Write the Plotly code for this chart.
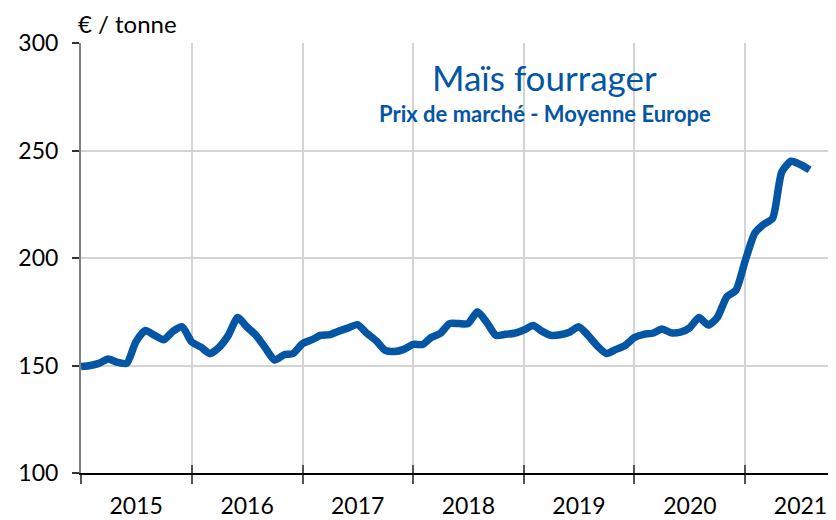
import plotly.graph_objects as go
import pandas as pd

# monthly average price, Jan 2015 .. Aug 2021 (EUR / tonne)
months = pd.date_range("2015-01-01", periods=80, freq="MS")
price = [
    149.5, 150.0, 151.0, 153.0, 151.5, 151.0, 161.0, 166.3, 164.0, 162.0, 166.0, 168.0,
    161.0, 158.5, 155.5, 158.5, 164.0, 172.3, 168.0, 164.0, 158.0, 152.5, 155.0, 155.6,
    160.2, 162.0, 164.0, 164.4, 166.0, 167.5, 169.0, 165.0, 161.5, 157.0, 156.5, 157.5,
    159.8, 159.8, 163.0, 165.0, 169.5, 169.5, 169.5, 175.0, 170.0, 164.0, 164.5, 165.0,
    166.5, 168.6, 166.0, 164.0, 164.3, 165.5, 168.0, 164.0, 159.0, 155.6, 157.5, 159.3,
    163.0, 164.5, 165.0, 167.0, 165.2, 165.5, 167.5, 172.3, 168.8, 172.5, 182.0, 185.0,
    199.0, 211.5, 215.5, 218.5, 240.0, 245.0, 243.5, 241.0,
]
years = [2015, 2016, 2017, 2018, 2019, 2020, 2021]

year_starts = [f"{y}-01-01" for y in years]
year_mids = [f"{y}-07-02" for y in years]
x_range = ["2015-01-01", "2021-10-27"]

blue = "#0456a5"
grid = "#d4d4d4"
font = "Lato, Open Sans, sans-serif"

fig = go.Figure()
fig.add_trace(go.Scatter(
    x=months, y=price, mode="lines",
    line=dict(color=blue, width=7.5, shape="spline", smoothing=0.6),
    hoverinfo="x+y", showlegend=False,
))
# dummy trace so the overlay axis (inner half of the crossing ticks) is drawn
fig.add_trace(go.Scatter(
    x=months, y=price, xaxis="x2", mode="lines",
    line=dict(width=0), opacity=0, hoverinfo="skip", showlegend=False,
))

# the page body has an 8px margin, so the figure is 8px smaller than the window
fig.update_layout(
    width=828, height=512,
    margin=dict(l=73, r=0, t=35, b=47),
    paper_bgcolor="white", plot_bgcolor="white",
    font=dict(family=font, size=24, color="black"),
    xaxis=dict(
        range=x_range, tickmode="array", tickvals=year_mids, ticktext=[str(y) for y in years],
        ticks="", showgrid=False, showline=True, linecolor="black", linewidth=1.5,
        zeroline=False, tickfont=dict(size=23), ticklabelstandoff=12, automargin=False,
        minor=dict(tickmode="array", tickvals=year_starts, ticks="outside", ticklen=9,
                   tickcolor="#555555", tickwidth=1.5, showgrid=True, gridcolor=grid, gridwidth=1.5),
    ),
    xaxis2=dict(
        range=x_range, overlaying="x", anchor="y", side="bottom",
        tickmode="array", tickvals=year_starts, ticks="inside", ticklen=8,
        tickcolor="#555555", tickwidth=1.5, showticklabels=False, showgrid=False,
        showline=False, zeroline=False, automargin=False,
    ),
    yaxis=dict(
        range=[100, 300], tickmode="array", tickvals=[100, 150, 200, 250, 300],
        ticks="outside", ticklen=7, tickcolor="#333333", tickwidth=1.5,
        showline=True, linecolor="#808080", linewidth=2,
        showgrid=True, gridcolor=grid, gridwidth=1.5, zeroline=False,
        tickfont=dict(size=23), ticklabelstandoff=9, automargin=False,
    ),
    annotations=[
        dict(text="€ / tonne", xref="paper", yref="paper", x=0.0, y=1.0, yshift=20, xshift=-4,
             xanchor="left", yanchor="middle", showarrow=False, borderpad=0,
             font=dict(family=font, size=24, color="black")),
        dict(text="Maïs fourrager", xref="paper", yref="paper", x=0.614, y=0.921,
             xanchor="center", yanchor="middle", showarrow=False,
             font=dict(family=font, size=35, color=blue)),
        dict(text="<b>Prix de marché - Moyenne Europe</b>", xref="paper", yref="paper",
             x=0.614, y=0.837, xanchor="center", yanchor="middle", showarrow=False,
             font=dict(family=font, size=22, color=blue)),
    ],
)

fig.write_html("out.html")
